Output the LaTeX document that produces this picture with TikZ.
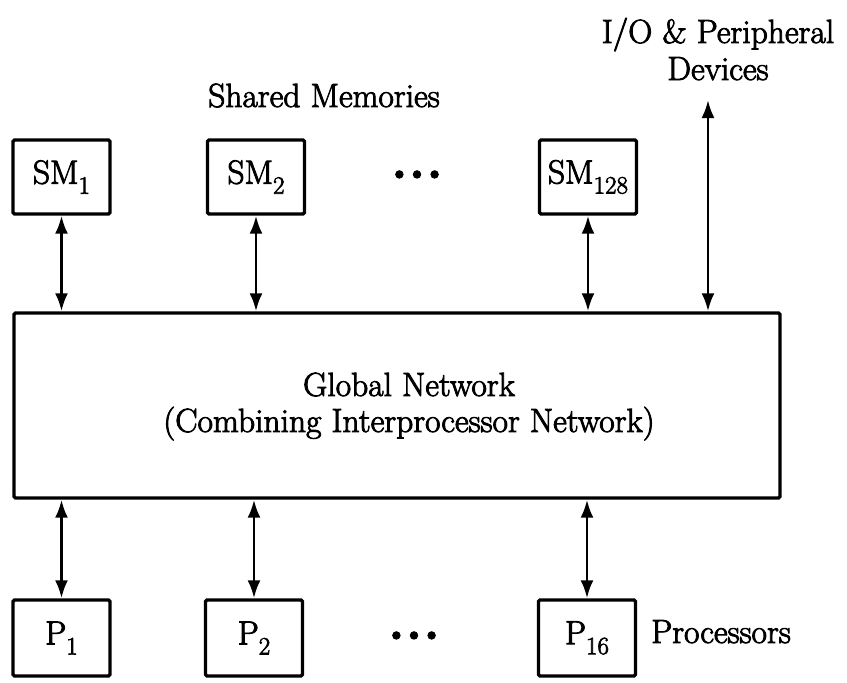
\documentclass[tikz,border=0pt]{standalone}
\usepackage{fontspec}
\setmainfont{Latin Modern Roman}[FakeBold=2.6]
\usetikzlibrary{arrows.meta}

\tikzset{
  bigtext/.style={font=\fontsize{33.5}{38}\selectfont},
  unitbox/.style={draw, line width=3.4pt, rounded corners=1.5pt, minimum width=97pt,
    minimum height=74pt, inner sep=0pt, bigtext},
  netbox/.style={draw, line width=3.4pt, rounded corners=1.5pt, minimum width=766pt,
    minimum height=185pt, inner sep=0pt},
  caption/.style={inner sep=0pt, bigtext},
  link/.style={line width=2.8pt,
    {Latex[length=18pt,width=13pt]}-{Latex[length=18pt,width=13pt]}},
}

\newcommand{\dotrow}{\textbullet\kern-6.5pt\textbullet\kern-6.5pt\textbullet}
% index set below the baseline, a little smaller than the name
\newcommand{\lowsub}[1]{\raisebox{-10pt}{\fontsize{25}{25}\selectfont #1}}

\begin{document}
\begin{tikzpicture}[x=1pt,y=-1pt]
  \useasboundingbox (0,0) rectangle (847,683);

  % shared memory modules
  \node[unitbox] (sm1)   at (61.5,177) {SM\lowsub{1}};
  \node[unitbox] (sm2)   at (256,177)  {SM\lowsub{2}};
  \node[unitbox] (sm128) at (588,177)  {SM\lowsub{128}};
  \node[caption] (smdots) at (417,177) {\dotrow};
  \node[caption, anchor=base] (smlabel) at (324,107) {Shared Memories};

  % I/O label
  \node[caption, anchor=base] (iolabel) at (718,43) {I/O \& Peripheral};
  \node[caption, anchor=base] (devlabel) at (718,80) {Devices};
  \coordinate (io) at (708,100);

  % global network
  \node[netbox] (net) at (397,405.5) {};
  \node[caption, anchor=base] (netA) at (409,396) {Global Network};
  \node[caption, anchor=base] (netB) at (409,432) {(Combining Interprocessor Network)};

  % processors
  \node[unitbox, minimum height=76pt] (p1)  at (61.5,638) {P\lowsub{1}};
  \node[unitbox, minimum height=76pt] (p2)  at (254,638)  {P\lowsub{2}};
  \node[unitbox, minimum height=76pt] (p16) at (587,638)  {P\lowsub{16}};
  \node[caption] (pdots) at (414,638) {\dotrow};
  \node[caption, anchor=base west] (plabel) at (651,643) {Processors};

  % connections
  \draw[link] (sm1.south)   -- (net.north -| sm1.south);
  \draw[link] (sm2.south)   -- (net.north -| sm2.south);
  \draw[link] (sm128.south) -- (net.north -| sm128.south);
  \draw[link] (io)          -- (net.north -| io);
  \draw[link] (p1.north)    -- (net.south -| p1.north);
  \draw[link] (p2.north)    -- (net.south -| p2.north);
  \draw[link] (p16.north)   -- (net.south -| p16.north);
\end{tikzpicture}
\end{document}
